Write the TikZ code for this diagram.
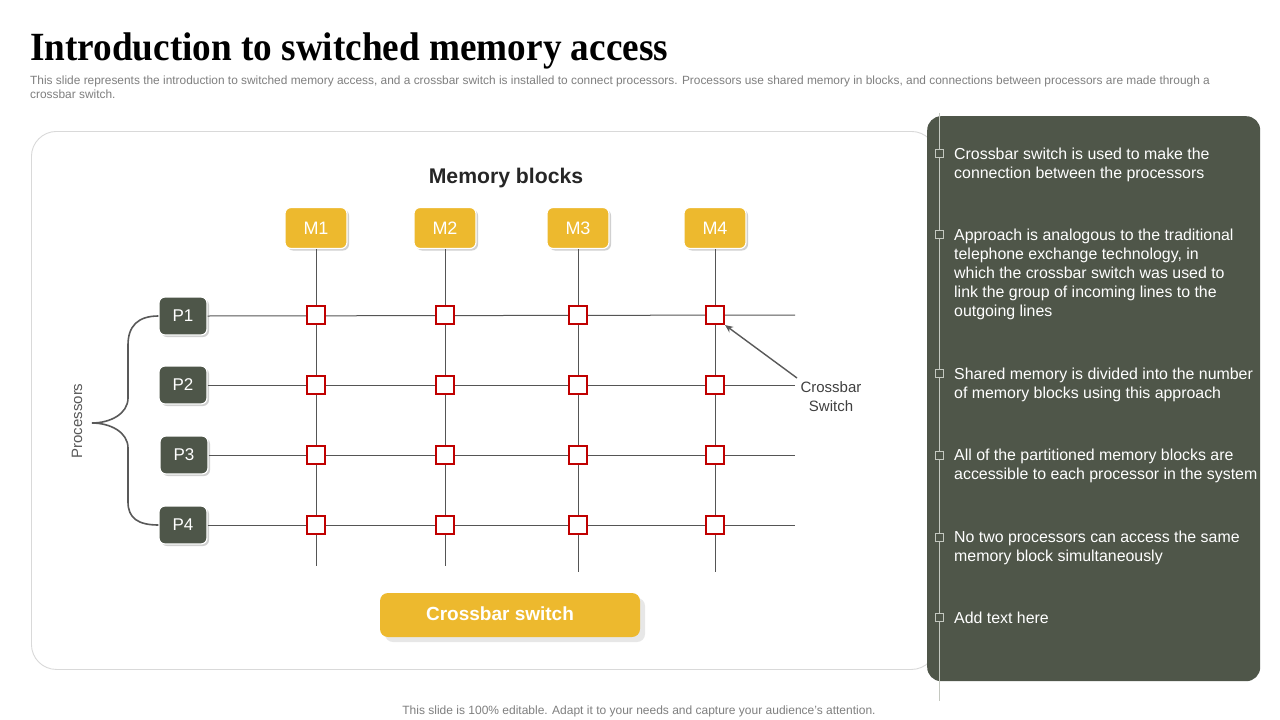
\documentclass[tikz,border=0pt]{standalone}
\usepackage{fontspec}
\setmainfont{Liberation Sans}
\newfontfamily\titlefont{Liberation Serif}
\usetikzlibrary{shadows,arrows.meta}
\definecolor{yellowc}{HTML}{EDB92E}
\definecolor{darkc}{HTML}{4E5649}
\definecolor{panelc}{HTML}{4F5649}
\definecolor{gridc}{HTML}{555555}
\definecolor{redc}{HTML}{C00000}
\definecolor{subc}{HTML}{7F7F7F}
\definecolor{frame}{HTML}{D9D9D9}
\definecolor{railc}{HTML}{C4C8C0}
\tikzset{
  mbox/.style={fill=yellowc, draw=white, line width=1.2pt, rounded corners=6pt, minimum width=62pt, minimum height=41pt,
    text=white, font=\fontsize{18}{20}\selectfont, drop shadow={shadow xshift=2pt, shadow yshift=-2pt, fill=black!30, opacity=0.6}},
  pbox/.style={fill=darkc, draw=white, line width=1.2pt, rounded corners=6pt, minimum width=48pt, minimum height=38pt,
    text=white, font=\fontsize{17}{19}\selectfont, drop shadow={shadow xshift=2pt, shadow yshift=-2pt, fill=black!30, opacity=0.6}},
  sw/.style={draw=redc, fill=white, line width=2.1pt, minimum size=18pt, inner sep=0pt},
  gline/.style={draw=gridc, line width=1pt},
  bullettext/.style={anchor=base west, inner sep=0pt, text=white, align=left, font=\fontsize{15.9}{19}\selectfont},
  marker/.style={draw=railc, fill=panelc, line width=0.7pt, minimum size=8pt, inner sep=0pt},
}
\begin{document}
\begin{tikzpicture}[x=1pt,y=-1pt]
\useasboundingbox (0,0) rectangle (1280,720);
\fill[white] (0,0) rectangle (1280,720);

% title
\node[anchor=base west, inner sep=0pt] (title) at (30,60) {\scalebox{0.93}[1]{\titlefont\bfseries\fontsize{40}{44}\selectfont Introduction to switched memory access}};
% subtitle (anchored at the baseline of its last line)
\node[anchor=base west, inner sep=0pt, align=left, text=subc, font=\fontsize{11.9}{14}\selectfont] (sub) at (30,98)
 {This slide represents the introduction to switched memory access, and a crossbar switch is installed to connect processors. Processors use shared memory in blocks, and connections between processors are made through a\\crossbar switch.};

% main frame
\node[draw=frame, line width=0.9pt, rounded corners=25pt, minimum width=905pt, minimum height=538pt, anchor=north west] (frame) at (31,131) {};

\node[font=\bfseries\fontsize{21.2}{23}\selectfont, text=black!85] (mb) at (506,178) {Memory blocks};

% memory boxes
\node[mbox] (M1) at (316,228) {M1};
\node[mbox] (M2) at (445,228) {M2};
\node[mbox] (M3) at (578,228) {M3};
\node[mbox] (M4) at (715,228) {M4};

% processor boxes
\node[pbox] (P1) at (183,316) {P1};
\node[pbox] (P2) at (183,385) {P2};
\node[pbox] (P3) at (184,455) {P3};
\node[pbox] (P4) at (183,525) {P4};

% free ends
\coordinate (v1) at (316,566);
\coordinate (v2) at (445,566);
\coordinate (v3) at (578,572);
\coordinate (v4) at (715,572);
\coordinate (h1) at (795,315);
\coordinate (h2) at (795,385);
\coordinate (h3) at (795,455);
\coordinate (h4) at (795,525);

\foreach \i in {1,...,4} {
  \draw[gline] (M\i.south) -- (v\i);
  \draw[gline] (P\i.east) -- (h\i);
}

% switches
\foreach \c [count=\i] in {316,445,578,715} {
  \foreach \r [count=\j] in {315,385,455,525} {
    \node[sw] (s\j\i) at (\c,\r) {};
  }
}

% crossbar switch callout
\node[align=center, text=black!75, font=\fontsize{15}{19}\selectfont] (cbl) at (831,397) {Crossbar\\Switch};
\coordinate (cbstart) at (797,378);
\draw[draw=black!65, line width=1.4pt, -{Stealth[length=8pt,width=7pt]}] (cbstart) -- (s14.south east);

% processors brace
\draw[draw=black!65, line width=1.6pt] (P1.west) .. controls (138,316) and (128,326) .. (128,345) -- (128,398)
  .. controls (128,414) and (110,423) .. (92,423) coordinate (tip)
  .. controls (110,423) and (128,432) .. (128,448) -- (128,502)
  .. controls (128,518) and (138,525) .. (P4.west);
\node[rotate=90, text=black!65, font=\fontsize{15}{17}\selectfont] (proc) at (77,421) {Processors};

% crossbar switch button
\node[fill=yellowc, rounded corners=8pt, minimum width=260pt, minimum height=44pt,
  drop shadow={shadow xshift=5pt, shadow yshift=-5pt, fill=black!18}] (btn) at (510,615) {};
\node[text=white, font=\bfseries\fontsize{19}{21}\selectfont] (btnt) at (500,614) {Crossbar switch};

% right panel
\node[fill=panelc, rounded corners=14pt, minimum width=333pt, minimum height=565pt, anchor=north west] (panel) at (927,116) {};
\coordinate (railtop) at (939,113);
\coordinate (railbot) at (939,701);
\draw[draw=railc, line width=1pt] (railtop) -- (railbot);

\foreach \y [count=\k] in {153,234,373,455,537,617} {
  \node[marker] (mk\k) at (939,\y) {};
}

% bullet texts (anchored at the baseline of their last line)
\node[bullettext] (b1) at (954,178) {Crossbar switch is used to make the\\connection between the processors};
\node[bullettext] (b2) at (954,316) {Approach is analogous to the traditional\\telephone exchange technology, in\\which the crossbar switch was used to\\link the group of incoming lines to the\\outgoing lines};
\node[bullettext] (b3) at (954,398) {Shared memory is divided into the number\\of memory blocks using this approach};
\node[bullettext] (b4) at (954,479) {All of the partitioned memory blocks are\\accessible to each processor in the system};
\node[bullettext] (b5) at (954,561) {No two processors can access the same\\memory block simultaneously};
\node[bullettext] (b6) at (954,623) {Add text here};

% footer
\node[text=subc, font=\fontsize{12}{14}\selectfont] (foot) at (639,711) {This slide is 100\% editable. Adapt it to your needs and capture your audience's attention.};
\end{tikzpicture}
\end{document}
